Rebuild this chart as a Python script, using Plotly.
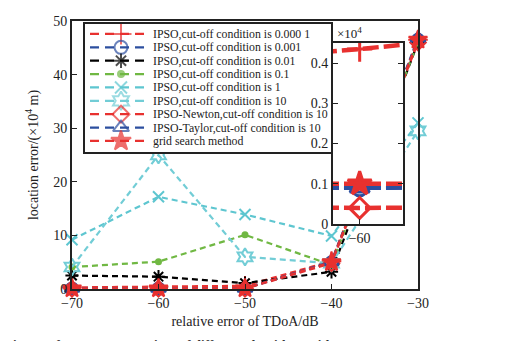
import plotly.graph_objects as go

# ---- data ----
x_db = [-70, -60, -50, -40, -30]
names = [
    "IPSO,cut-off condition is 0.000 1",
    "IPSO,cut-off condition is 0.001",
    "IPSO,cut-off condition is 0.01",
    "IPSO,cut-off condition is 0.1",
    "IPSO,cut-off condition is 1",
    "IPSO,cut-off condition is 10",
    "IPSO-Newton,cut-off condition is 10",
    "IPSO-Taylor,cut-off condition is 10",
    "grid search method",
]
ipso_00001 = [0.30, 0.435, 0.60, 5.2, 46.5]
ipso_0001 = [0.10, 0.09, 0.10, 5.0, 46.5]
ipso_001 = [2.5, 2.3, 1.1, 3.2, 46.0]
ipso_01 = [4.1, 5.1, 10.1, 4.5, 46.0]
ipso_1 = [9.2, 17.2, 13.9, 9.9, 31.0]
ipso_10 = [4.1, 25.0, 6.0, 4.8, 29.5]
ipso_newton = [0.05, 0.04, 0.05, 4.8, 46.0]
ipso_taylor = [0.10, 0.09, 0.10, 5.1, 46.8]
grid_search = [0.10, 0.10, 0.10, 5.0, 46.5]
series = [ipso_00001, ipso_0001, ipso_001, ipso_01, ipso_1, ipso_10,
          ipso_newton, ipso_taylor, grid_search]

RED = "#e8312f"
BLUE = "#2c4f9f"
BLACK = "#000000"
GREEN = "#70b843"
CYAN = "#5ec6d0"
CYAN2 = "#72cdd6"
colors = [RED, BLUE, BLACK, GREEN, CYAN, CYAN2, RED, BLUE, RED]
symbols = ["cross-thin-open", "circle-open", "asterisk-open", "circle",
           "x-thin-open", "hexagram-open", "diamond-open", "triangle-up-open", "star"]
msizes = [14, 12, 11, 5, 11, 13, 12, 13, 14]

inset_x = [-60.4, -59.35]
inset_y = [0, 0.45]

FONT = "Liberation Serif, Times New Roman, serif"

W, H = 514, 341
L, R, T, B = 72, 96, 21, 52
pw, ph = W - L - R, H - T - B


def px_x(p):
    return (p - L) / pw


def px_y(p):
    return (H - B - p) / ph


fig = go.Figure()

# ---- main plot ----
for s, n, c, sym, ms in zip(series, names, colors, symbols, msizes):
    fig.add_trace(go.Scatter(
        x=x_db, y=s, name=n, mode="lines+markers", showlegend=False,
        line=dict(color=c, width=2.2, dash="6px,4px"),
        marker=dict(symbol=sym, size=ms, color=c, line=dict(color=c, width=2)),
        cliponaxis=False,
    ))

# ---- legend box (axis 2) ----
rows = list(range(len(names)))
leg_x = [-0.097, 3.903]
leg_y = [len(names) - 1 + 0.9, -0.82]
fig.add_trace(go.Scatter(
    x=[leg_x[0], leg_x[1], leg_x[1], leg_x[0], leg_x[0]],
    y=[leg_y[0], leg_y[0], leg_y[1], leg_y[1], leg_y[0]],
    xaxis="x2", yaxis="y2", fill="toself", fillcolor="white",
    mode="lines", line=dict(width=0), showlegend=False, hoverinfo="skip",
))
for i, n, c, sym, ms in zip(rows, names, colors, symbols, msizes):
    fig.add_trace(go.Scatter(
        x=[0, 0.5, 0.96], y=[i, i, i], xaxis="x2", yaxis="y2",
        mode="lines+markers", showlegend=False, hoverinfo="skip",
        line=dict(color=c, width=2.2, dash="9px,6px"),
        marker=dict(symbol=sym, size=[0, ms + 1, 0], color=c,
                    line=dict(color=c, width=2)),
    ))
    fig.add_annotation(text=n, xref="x2", yref="y2", x=1.0, y=i, xshift=-1,
                       xanchor="left", yanchor="middle", showarrow=False,
                       font=dict(size=11.8, family=FONT, color="#222"))
fig.add_shape(type="rect", xref="x2 domain", yref="y2 domain", x0=0, x1=1, y0=0, y1=1,
              line=dict(color="#222", width=2), fillcolor="rgba(0,0,0,0)", layer="above")

# ---- inset (axis 3) ----
fig.add_trace(go.Scatter(
    x=[inset_x[0], inset_x[1], inset_x[1], inset_x[0], inset_x[0]],
    y=[inset_y[0], inset_y[0], inset_y[1], inset_y[1], inset_y[0]],
    xaxis="x3", yaxis="y3", fill="toself", fillcolor="white",
    mode="lines", line=dict(width=0), showlegend=False, hoverinfo="skip",
))
for s, n, c, sym, ms in zip(series, names, colors, symbols, msizes):
    fig.add_trace(go.Scatter(
        x=x_db, y=s, mode="lines+markers", showlegend=False,
        xaxis="x3", yaxis="y3",
        line=dict(color=c, width=4.5, dash="16px,5px"),
        marker=dict(symbol=sym, size=ms + 4, color=c, line=dict(color=c, width=3)),
        cliponaxis=True,
    ))

fig.update_layout(
    width=W, height=H,
    margin=dict(l=L, r=R, t=T, b=B),
    paper_bgcolor="white", plot_bgcolor="white",
    font=dict(family=FONT, size=13, color="#222"),
    showlegend=False,
    xaxis=dict(range=[-70, -30], tickvals=x_db, ticks="inside", ticklen=5,
               tickcolor="#222", showline=True, linecolor="#222", linewidth=2,
               mirror=True, showgrid=False, zeroline=False,
               tickfont=dict(size=14),
               title=dict(text="relative error of TDoA/dB", font=dict(size=14), standoff=6)),
    yaxis=dict(range=[0, 50], tickvals=[0, 10, 20, 30, 40, 50], ticks="inside",
               ticklen=5, tickcolor="#222", showline=True, linecolor="#222",
               linewidth=2, mirror=True, showgrid=False, zeroline=False,
               tickfont=dict(size=14),
               title=dict(text="location error/(×10<sup>4</sup> m)", font=dict(size=14), standoff=11)),
    xaxis2=dict(domain=[px_x(84), px_x(332)], anchor="y2", range=leg_x, visible=False),
    yaxis2=dict(domain=[px_y(153), px_y(23)], anchor="x2", range=leg_y, visible=False),
    xaxis3=dict(domain=[px_x(333), px_x(403)], anchor="y3", range=inset_x,
                tickvals=[-60], ticks="inside", ticklen=5, tickcolor="#222",
                showline=True, linecolor="#222", linewidth=2, mirror=True,
                showgrid=False, zeroline=False, tickfont=dict(size=14)),
    yaxis3=dict(domain=[px_y(224), px_y(43)], anchor="x3", range=inset_y,
                tickvals=[0, 0.1, 0.2, 0.3, 0.4], ticktext=["0", "0.1", "0.2", "0.3", "0.4"],
                ticks="inside", ticklen=5, tickcolor="#222",
                showline=True, linecolor="#222", linewidth=2, mirror="ticks",
                showgrid=False, zeroline=False, tickfont=dict(size=14)),
)

fig.add_annotation(text="×10<sup>4</sup>", xref="paper", yref="paper",
                   x=px_x(335), y=px_y(33), xanchor="left", yanchor="middle",
                   showarrow=False, font=dict(size=13, family=FONT, color="#222"))
fig.add_annotation(text="<b>Fig.3 Performance comparison of different algorithms with TDoA</b>",
                   xref="paper", yref="paper", x=px_x(3), y=px_y(344),
                   xanchor="left", yanchor="middle", showarrow=False,
                   font=dict(size=13, family=FONT, color="#333"))

fig.write_html("out.html")
